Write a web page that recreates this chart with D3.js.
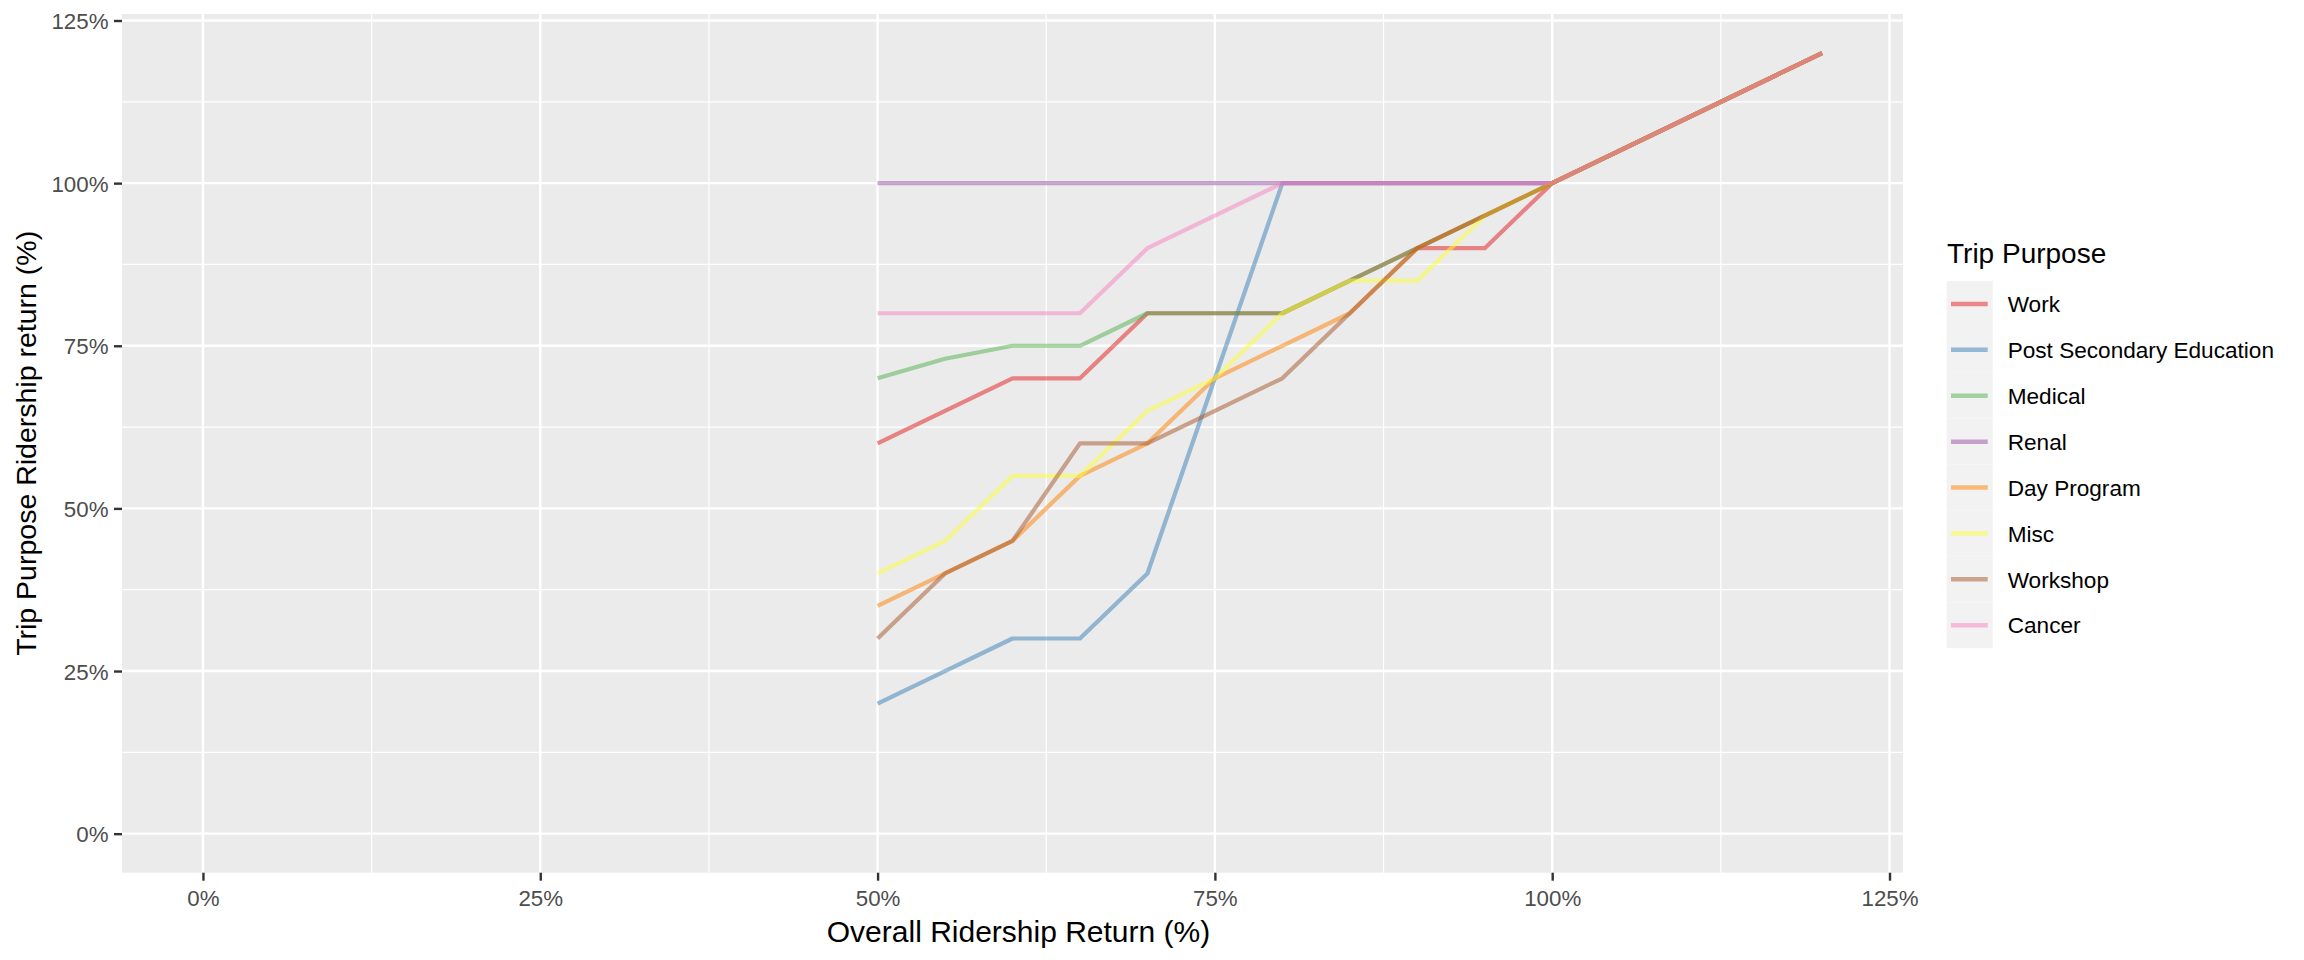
<!DOCTYPE html>
<html>
<head>
<meta charset="utf-8">
<script src="https://cdn.jsdelivr.net/npm/d3@7"></script>
<style>
  html, body { margin: 0; padding: 0; background: #ffffff; }
  svg { display: block; font-family: "Liberation Sans", Arial, sans-serif; }
</style>
</head>
<body>
<svg id="chart" width="2304" height="960"></svg>
<script>
// ---- data ----
const overallReturn = [50, 55, 60, 65, 70, 75, 80, 85, 90, 95, 100, 120];
const purposes = ["Work", "Post Secondary Education", "Medical", "Renal", "Day Program", "Misc", "Workshop", "Cancer"];
const work          = [60, 65, 70, 70, 80, 80, 80, 85, 90, 90, 100, 120];
const postSecondary = [20, 25, 30, 30, 40, 70, 100, 100, 100, 100, 100, 120];
const medical       = [70, 73, 75, 75, 80, 80, 80, 85, 90, 95, 100, 120];
const renal         = [100, 100, 100, 100, 100, 100, 100, 100, 100, 100, 100, 120];
const dayProgram    = [35, 40, 45, 55, 60, 70, 75, 80, 90, 95, 100, 120];
const misc          = [40, 45, 55, 55, 65, 70, 80, 85, 85, 95, 100, 120];
const workshop      = [30, 40, 45, 60, 60, 65, 70, 80, 90, 95, 100, 120];
const cancer        = [80, 80, 80, 80, 90, 95, 100, 100, 100, 100, 100, 120];
const seriesValues = [work, postSecondary, medical, renal, dayProgram, misc, workshop, cancer];
const xTicks = [0, 25, 50, 75, 100, 125];
const yTicks = [0, 25, 50, 75, 100, 125];
const xMinor = [12.5, 37.5, 62.5, 87.5, 112.5];
const yMinor = [12.5, 37.5, 62.5, 87.5, 112.5];
const xTitle = "Overall Ridership Return (%)";
const yTitle = "Trip Purpose Ridership return (%)";
const legendTitle = "Trip Purpose";

// ---- layout ----
const panel = { left: 122, right: 1903, top: 14, bottom: 872.7 };
const svg = d3.select("#chart");

const x = d3.scaleLinear().domain([-6, 126]).range([panel.left, panel.right]);
const y = d3.scaleLinear().domain([-6, 126]).range([panel.bottom, panel.top]);
const color = d3.scaleOrdinal().domain(purposes).range(d3.schemeSet1);

// panel background
svg.append("rect")
  .attr("x", panel.left).attr("y", panel.top)
  .attr("width", panel.right - panel.left).attr("height", panel.bottom - panel.top)
  .attr("fill", "#EBEBEB");

const grid = svg.append("g");
// minor grid
grid.selectAll(".xminor").data(xMinor).join("line")
  .attr("x1", d => x(d)).attr("x2", d => x(d))
  .attr("y1", panel.top).attr("y2", panel.bottom)
  .attr("stroke", "#fff").attr("stroke-width", 1.2);
grid.selectAll(".yminor").data(yMinor).join("line")
  .attr("y1", d => y(d)).attr("y2", d => y(d))
  .attr("x1", panel.left).attr("x2", panel.right)
  .attr("stroke", "#fff").attr("stroke-width", 1.2);
// major grid
grid.selectAll(".xmajor").data(xTicks).join("line")
  .attr("x1", d => x(d)).attr("x2", d => x(d))
  .attr("y1", panel.top).attr("y2", panel.bottom)
  .attr("stroke", "#fff").attr("stroke-width", 2.4);
grid.selectAll(".ymajor").data(yTicks).join("line")
  .attr("y1", d => y(d)).attr("y2", d => y(d))
  .attr("x1", panel.left).attr("x2", panel.right)
  .attr("stroke", "#fff").attr("stroke-width", 2.4);

// lines
const line = d3.line().x(d => x(d[0])).y(d => y(d[1]));
const linesG = svg.append("g");
purposes.forEach((p, i) => {
  const pts = overallReturn.map((xv, j) => [xv, seriesValues[i][j]]);
  linesG.append("path")
    .attr("d", line(pts))
    .attr("fill", "none")
    .attr("stroke", color(p))
    .attr("stroke-opacity", 0.5)
    .attr("stroke-width", 4.2)
    .attr("stroke-linejoin", "round")
    .attr("stroke-linecap", "butt");
});

// axes
const fmt = d => d + "%";
const xAxis = d3.axisBottom(x).tickValues(xTicks).tickFormat(fmt).tickSize(8).tickPadding(5);
const yAxis = d3.axisLeft(y).tickValues(yTicks).tickFormat(fmt).tickSize(8).tickPadding(5.5);

const gx = svg.append("g").attr("transform", `translate(0,${panel.bottom})`).call(xAxis);
const gy = svg.append("g").attr("transform", `translate(${panel.left},0)`).call(yAxis);
[gx, gy].forEach(g => {
  g.select(".domain").remove();
  g.selectAll(".tick line").attr("stroke", "#333333").attr("stroke-width", 2.4);
  g.selectAll(".tick text").attr("fill", "#4D4D4D").attr("font-size", 22.3)
    .attr("font-family", "Liberation Sans, Arial, sans-serif");
});
gx.selectAll(".tick text").attr("dy", null).attr("y", 33.3);
gy.selectAll(".tick text").attr("dy", "0.36em");

// axis titles
svg.append("text")
  .attr("x", (panel.left + panel.right) / 2 + 6).attr("y", 942)
  .attr("text-anchor", "middle").attr("font-size", 30).attr("fill", "#000")
  .text(xTitle);
svg.append("text")
  .attr("transform", `translate(36,${(panel.top + panel.bottom) / 2}) rotate(-90)`)
  .attr("text-anchor", "middle").attr("font-size", 28.5).attr("fill", "#000")
  .text(yTitle);

// legend
const leg = svg.append("g");
const legX = 1946.7, legKeyTop = 281, keyH = 45.9, keyW = 46;
leg.append("text").attr("x", 1947).attr("y", 263.3)
  .attr("font-size", 28).attr("fill", "#000").text(legendTitle);
purposes.forEach((p, i) => {
  const ky = legKeyTop + i * keyH;
  leg.append("rect").attr("x", legX).attr("y", ky).attr("width", keyW).attr("height", keyH)
    .attr("fill", "#F2F2F2");
  leg.append("line")
    .attr("x1", legX + 4.3).attr("x2", legX + 41)
    .attr("y1", ky + keyH / 2).attr("y2", ky + keyH / 2)
    .attr("stroke", color(p)).attr("stroke-opacity", 0.5).attr("stroke-width", 4.5);
  leg.append("text").attr("x", 2007.7).attr("y", ky + keyH / 2 + 8.2)
    .attr("font-size", 22.6).attr("fill", "#000").text(p);
});
</script>
</body>
</html>
